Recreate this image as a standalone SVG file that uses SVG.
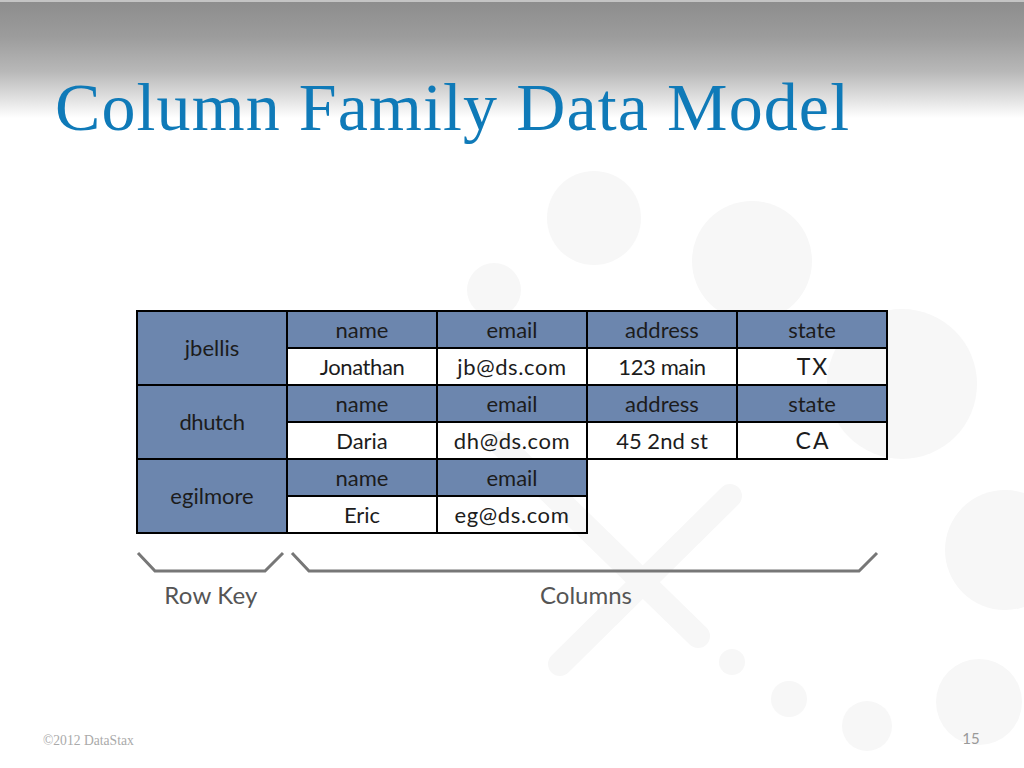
<svg xmlns="http://www.w3.org/2000/svg" width="1024" height="768" viewBox="0 0 1024 768">
<style>
.bg{fill:#f7f7f7}
.k{fill:#6c86ae;stroke:#000;stroke-width:2}
.v{fill:none;stroke:#000;stroke-width:2}
.t{font-family:Lato,"Noto Sans",sans-serif;font-size:22px;fill:#1c1c1c;text-anchor:middle}
.w{letter-spacing:.6px}
.n{letter-spacing:-.4px}
.u{font-size:23px;letter-spacing:2px}
.l{font-family:Lato,"Noto Sans",sans-serif;font-size:24px;fill:#555;text-anchor:middle}
.b{fill:none;stroke:#777;stroke-width:3}
</style>
<defs><linearGradient id="hd" x1="0" y1="0" x2="0" y2="1">
<stop offset="0" stop-color="#8d8d8d"/><stop offset=".3" stop-color="#9c9c9c"/><stop offset=".6" stop-color="#b8b8b8"/><stop offset=".85" stop-color="#e4e4e4"/><stop offset="1" stop-color="#fff"/></linearGradient></defs>
<rect width="1024" height="768" fill="#fff"/>
<g id="background">
<circle class="bg" cx="594" cy="218" r="47"/><circle class="bg" cx="752" cy="261" r="60"/><circle class="bg" cx="494" cy="290" r="27"/><circle class="bg" cx="902" cy="384" r="75"/><circle class="bg" cx="1005" cy="550" r="60"/><circle class="bg" cx="979" cy="702" r="43"/><circle class="bg" cx="867" cy="726" r="25"/><circle class="bg" cx="789" cy="699" r="18"/><circle class="bg" cx="732" cy="662" r="13"/>
<path d="M730 496L560 664M500 443L698 636" fill="none" stroke="#f7f7f7" stroke-width="24" stroke-linecap="round"/>
</g>
<rect y="2" width="1024" height="116" fill="url(#hd)"/><rect width="1024" height="2" fill="#c4c4c4"/>
<text id="title" x="55" y="130" font-family="Liberation Serif,serif" font-size="68" letter-spacing="1.1" fill="#0f7ab8">Column Family Data Model</text>
<g id="row-jbellis">
<rect class="k" x="137" y="311" width="150" height="74"/><text class="t" x="212" y="356">jbellis</text>
<rect class="k" x="287" y="311" width="150" height="37"/><text class="t" x="362" y="338">name</text>
<rect class="k" x="437" y="311" width="150" height="37"/><text class="t" x="512" y="338">email</text>
<rect class="k" x="587" y="311" width="150" height="37"/><text class="t" x="662" y="338">address</text>
<rect class="k" x="737" y="311" width="150" height="37"/><text class="t" x="812" y="338">state</text>
<rect class="v" x="287" y="348" width="150" height="37"/><text class="t n" x="362" y="375">Jonathan</text>
<rect class="v" x="437" y="348" width="150" height="37"/><text class="t w" x="512" y="375">jb@ds.com</text>
<rect class="v" x="587" y="348" width="150" height="37"/><text class="t n" x="662" y="375">123 main</text>
<rect class="v" x="737" y="348" width="150" height="37"/><text class="t u" x="813" y="375">TX</text>
</g>
<g id="row-dhutch">
<rect class="k" x="137" y="385" width="150" height="74"/><text class="t n" x="212" y="430">dhutch</text>
<rect class="k" x="287" y="385" width="150" height="37"/><text class="t" x="362" y="412">name</text>
<rect class="k" x="437" y="385" width="150" height="37"/><text class="t" x="512" y="412">email</text>
<rect class="k" x="587" y="385" width="150" height="37"/><text class="t" x="662" y="412">address</text>
<rect class="k" x="737" y="385" width="150" height="37"/><text class="t" x="812" y="412">state</text>
<rect class="v" x="287" y="422" width="150" height="37"/><text class="t" x="362" y="449">Daria</text>
<rect class="v" x="437" y="422" width="150" height="37"/><text class="t w" x="512" y="449">dh@ds.com</text>
<rect class="v" x="587" y="422" width="150" height="37"/><text class="t" x="662" y="449">45 2nd st</text>
<rect class="v" x="737" y="422" width="150" height="37"/><text class="t u" x="813" y="449">CA</text>
</g>
<g id="row-egilmore">
<rect class="k" x="137" y="459" width="150" height="74"/><text class="t" x="212" y="504">egilmore</text>
<rect class="k" x="287" y="459" width="150" height="37"/><text class="t" x="362" y="486">name</text>
<rect class="k" x="437" y="459" width="150" height="37"/><text class="t" x="512" y="486">email</text>
<rect class="v" x="287" y="496" width="150" height="37"/><text class="t" x="362" y="523">Eric</text>
<rect class="v" x="437" y="496" width="150" height="37"/><text class="t w" x="512" y="523">eg@ds.com</text>
</g>
<g id="connectors">
<path class="b" d="M138 553L155 571H265L283 553"/>
<path class="b" d="M292 553L309 571H859L877 553"/>
</g>
<text class="l" x="211" y="604" letter-spacing=".2">Row Key</text>
<text class="l" x="586" y="604">Columns</text>
<text x="43" y="745" font-family="Liberation Serif,serif" font-size="13.6" fill="#aaa">©2012 DataStax</text>
<text x="971" y="744" font-family="Lato,sans-serif" font-size="15" fill="#999" text-anchor="middle">15</text>
</svg>
